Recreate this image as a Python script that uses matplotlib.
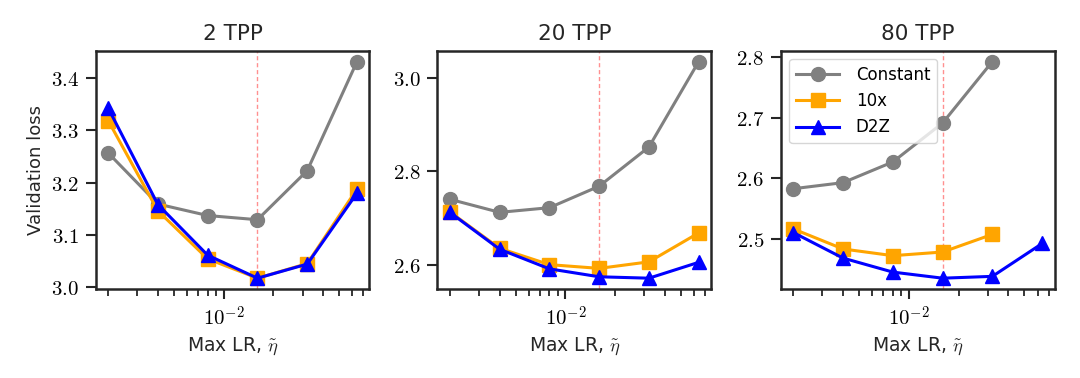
import numpy as np
import matplotlib
matplotlib.use("Agg")
import matplotlib.pyplot as plt
from matplotlib.ticker import FuncFormatter, NullFormatter, FixedLocator

plt.rcParams['font.family'] = ['DejaVu Sans']
plt.rcParams['mathtext.fontset'] = 'cm'

# Max learning rates swept (same grid for every panel)
lrs = [2e-3, 4e-3, 8e-3, 1.6e-2, 3.2e-2, 6.4e-2]
best_lr = 1.6e-2

titles = ['2 TPP', '20 TPP', '80 TPP']

# Validation loss per schedule, one list per panel (None = run not shown)
constant = [
    [3.257, 3.159, 3.137, 3.129, 3.223, 3.432],
    [2.740, 2.712, 2.722, 2.768, 2.852, 3.035],
    [2.583, 2.593, 2.627, 2.691, 2.792, None],
]
tenx = [
    [3.319, 3.146, 3.054, 3.017, 3.045, 3.188],
    [2.713, 2.635, 2.600, 2.592, 2.606, 2.668],
    [2.517, 2.484, 2.473, 2.479, 2.508, None],
]
d2z = [
    [3.343, 3.158, 3.061, 3.017, 3.044, 3.180],
    [2.712, 2.633, 2.591, 2.574, 2.571, 2.605],
    [2.511, 2.469, 2.446, 2.436, 2.439, 2.493],
]

yticks = [
    [3.0, 3.1, 3.2, 3.3, 3.4],
    [2.6, 2.8, 3.0],
    [2.5, 2.6, 2.7, 2.8],
]

dark = '#262626'
fig = plt.figure(figsize=(10.8, 3.78), dpi=100)
lefts = [0.0886, 0.405, 0.723]
w, b, h = 0.2535, 0.2354, 0.6305


def plot_series(ax, xs, ys, **kw):
    pts = [(x, y) for x, y in zip(xs, ys) if y is not None]
    ax.plot([p[0] for p in pts], [p[1] for p in pts], **kw)


for i in range(3):
    ax = fig.add_axes([lefts[i], b, w, h])
    ax.axvline(best_lr, color='#ff9090', linestyle='--', lw=1.0, dashes=(3, 2))
    plot_series(ax, lrs, constant[i], color='gray', marker='o', ms=10, lw=2.2, label='Constant')
    plot_series(ax, lrs, tenx[i], color='orange', marker='s', ms=10, lw=2.2, label='10x')
    plot_series(ax, lrs, d2z[i], color='blue', marker='^', ms=10.5, lw=2.2, label='D2Z')
    ax.set_xscale('log')
    ax.xaxis.set_major_locator(FixedLocator([1e-2]))
    ax.xaxis.set_major_formatter(FuncFormatter(lambda v, p: r'$10^{-2}$'))
    ax.xaxis.set_minor_formatter(NullFormatter())
    ax.set_yticks(yticks[i])
    ax.yaxis.set_major_formatter(FuncFormatter(lambda v, p: '$%.1f$' % v))
    for s in ax.spines.values():
        s.set_linewidth(1.8)
        s.set_color(dark)
    ax.tick_params(which='major', length=7, width=1.5, color=dark, labelsize=15, pad=5)
    ax.tick_params(which='minor', length=5, width=1.3, color=dark)
    ax.set_title(titles[i], fontsize=15.5, color=dark, pad=8)
    ax.set_xlabel(r'Max LR, $\tilde{\eta}$', fontsize=13.5, color=dark)
    if i == 0:
        ax.set_ylabel('Validation loss', fontsize=13, color=dark)
    if i == 2:
        ax.legend(loc='upper left', fontsize=12, handlelength=2.6, handletextpad=1.0,
                  framealpha=0.8, edgecolor='#cccccc')

fig.savefig('out.png', dpi=100)
